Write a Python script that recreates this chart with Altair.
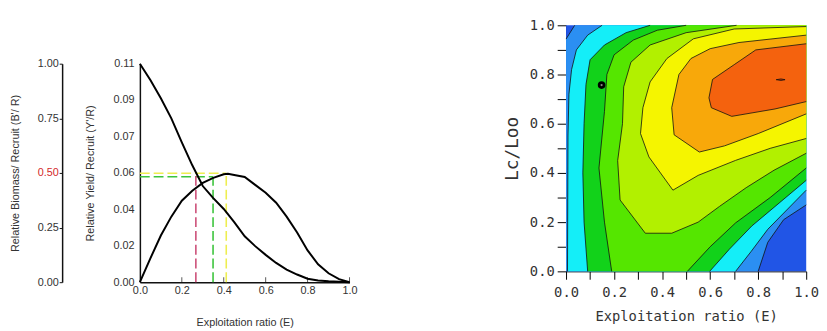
import altair as alt
import pandas as pd

# ---------------- Left panel: relative yield / biomass per recruit ----------------
E_br = [0, 0.05, 0.1, 0.15, 0.2, 0.25, 0.3, 0.35, 0.4, 0.45, 0.5, 0.55, 0.6, 0.65, 0.7, 0.75, 0.8, 0.85, 0.9, 0.95, 1.0]
BR = [1.0, 0.925, 0.842, 0.75, 0.64, 0.535, 0.44, 0.385, 0.335, 0.275, 0.21, 0.165, 0.125, 0.088, 0.058, 0.035, 0.016, 0.008, 0.004, 0.002, 0.0]

E_yr = [0, 0.05, 0.1, 0.15, 0.2, 0.25, 0.3, 0.35, 0.4, 0.42, 0.45, 0.5, 0.55, 0.6, 0.65, 0.7, 0.75, 0.8, 0.85, 0.9, 0.95, 1.0]
YR = [0, 0.012, 0.0235, 0.033, 0.041, 0.046, 0.050, 0.0525, 0.0543, 0.0546, 0.054, 0.053, 0.049, 0.045, 0.040, 0.033, 0.025, 0.016, 0.009, 0.0045, 0.0015, 0.0]

# reference points: E50, E10, Emax
ref_E = [0.267, 0.349, 0.412]
ref_Y = [0.0546, 0.0531, 0.0548]
ref_horizontal = [False, True, True]
ref_colors = ["#cc4f78", "#3cc43c", "#eeee50"]

yield_tick_values = [0, 0.0183, 0.0367, 0.055, 0.0733, 0.0917, 0.11]
yield_tick_labels = ["0.00", "0.02", "0.04", "0.06", "0.07", "0.09", "0.11"]
biomass_tick_values = [0, 0.25, 0.5, 0.75, 1.0]
biomass_highlight = 0.5
x_tick_values = [0, 0.2, 0.4, 0.6, 0.8, 1.0]

# ---------------- Right panel: yield isopleths (Lc/Loo vs E) ----------------
contour_colors = ["#2155e6", "#2b8ff2", "#14eef8", "#12d21a", "#55e600",
                  "#b2f000", "#f5f500", "#f8a80a", "#f4620e", "#e03000"]
contour_polys = [
    [(0, 0), (0, 1), (1, 1), (1, 0)],
    [(0, 0), (0, 0.944), (0.036, 1.0), (1, 1), (1, 0.27), (0.906, 0.21), (0.84, 0.118), (0.8, 0)],
    [(0.006, 0), (0.008, 0.55), (0.012, 0.72), (0.023, 0.82), (0.043, 0.9), (0.09, 0.96), (0.15, 1.0),
     (1, 1), (1, 0.33), (0.84, 0.171), (0.77, 0.08), (0.706, 0)],
    [(0.09, 0), (0.075, 0.2), (0.07, 0.4), (0.075, 0.6), (0.083, 0.76), (0.1, 0.86), (0.16, 0.92),
     (0.25, 0.97), (0.35, 1.0), (1, 1), (1, 0.37), (0.773, 0.184), (0.68, 0.09), (0.598, 0)],
    [(0.19, 0), (0.16, 0.2), (0.137, 0.42), (0.15, 0.55), (0.16, 0.65), (0.17, 0.8), (0.2, 0.88),
     (0.28, 0.94), (0.38, 0.98), (0.5, 1.0), (1, 1), (1, 0.42), (0.85, 0.3), (0.706, 0.197),
     (0.6, 0.1), (0.505, 0)],
    [(0.225, 0.29), (0.215, 0.45), (0.235, 0.6), (0.24, 0.75), (0.27, 0.85), (0.35, 0.92), (0.5, 0.97),
     (0.71, 1.0), (1, 1), (1, 0.48), (0.866, 0.411), (0.75, 0.34), (0.639, 0.264), (0.55, 0.2),
     (0.44, 0.155), (0.33, 0.155)],
    [(0.345, 0.465), (0.31, 0.56), (0.32, 0.665), (0.35, 0.77), (0.42, 0.865), (0.53, 0.945),
     (0.7, 0.985), (1.0, 0.995), (1.0, 0.54), (0.85, 0.5), (0.706, 0.451), (0.55, 0.39), (0.445, 0.33)],
    [(0.44, 0.665), (0.47, 0.80), (0.52, 0.865), (0.60, 0.905), (0.72, 0.93), (1.0, 0.96), (1.0, 0.64),
     (0.80, 0.56), (0.66, 0.51), (0.555, 0.485), (0.45, 0.555)],
    [(0.61, 0.78), (0.70, 0.84), (0.79, 0.90), (1.0, 0.925), (1.0, 0.69), (0.87, 0.66), (0.69, 0.63),
     (0.605, 0.665), (0.595, 0.705)],
    [(0.875, 0.779), (0.895, 0.782), (0.912, 0.779), (0.895, 0.776)],
]
optimum_E = [0.148]
optimum_Lc = [0.757]

# ---------------- build tables ----------------
df_b = pd.DataFrame({"E": E_br, "B": BR})
df_y = pd.DataFrame({"E": E_yr, "Y": YR})
rows = []
for e, yv, h, c in zip(ref_E, ref_Y, ref_horizontal, ref_colors):
    if h:
        rows.append(dict(x1=0, x2=e, y1=yv, y2=yv, color=c))
for e, yv, h, c in zip(ref_E, ref_Y, ref_horizontal, ref_colors):
    rows.append(dict(x1=e, x2=e, y1=0, y2=yv, color=c))
df_d = pd.DataFrame(rows)
df_t = pd.DataFrame({"E": x_tick_values[1:], "zero": [0] * (len(x_tick_values) - 1)})

FONT_L = "Liberation Sans"
TXT = "#333333"
W1, H1 = 213, 222
xs = alt.Scale(domain=[0, 1], nice=False, zero=False)
ys_y = alt.Scale(domain=[0, 0.11], nice=False)
ys_b = alt.Scale(domain=[0, 1], nice=False)

yield_expr = " : ".join(
    f"abs(datum.value - {v}) < 0.0005 ? '{l}'" for v, l in zip(yield_tick_values, yield_tick_labels)
) + " : ''"

common_l = dict(labelFont=FONT_L, titleFont=FONT_L, labelFontSize=11, titleFontSize=11,
                labelColor=TXT, titleColor=TXT, titleFontWeight="normal", grid=False,
                domainColor="#111111", domainWidth=1.5)

x_axis_l = alt.Axis(values=x_tick_values, format=".1f", title="Exploitation ratio (E)",
                    tickSize=0, labelPadding=2, titlePadding=22, labelFlush=False, **common_l)
y_axis_yield = alt.Axis(values=yield_tick_values, labelExpr=yield_expr, orient="left",
                        title="Relative Yield/ Recruit (Y'/R)", tickSize=0, labelPadding=6,
                        titlePadding=18, labelFlush=False, **common_l)
y_axis_bio = alt.Axis(values=biomass_tick_values, format=".2f", orient="left", offset=79,
                      title="Relative Biomass/ Recruit (B'/ R)", tickSize=3, tickColor="#111111",
                      labelPadding=1, titlePadding=17, labelFlush=False,
                      **{**common_l, "labelColor": {"expr": f"datum.value == {biomass_highlight} ? '#d42a2a' : '{TXT}'"}})

dash = alt.Chart(df_d).mark_rule(strokeDash=[10, 4], strokeWidth=1.6).encode(
    x=alt.X("x1:Q", scale=xs, axis=x_axis_l), x2="x2:Q",
    y=alt.Y("y1:Q", scale=ys_y, axis=y_axis_yield), y2="y2:Q",
    color=alt.Color("color:N", scale=None))
yield_line = alt.Chart(df_y).mark_line(color="black", strokeWidth=2).encode(
    x=alt.X("E:Q", scale=xs, axis=x_axis_l),
    y=alt.Y("Y:Q", scale=ys_y, axis=y_axis_yield))
ticks = alt.Chart(df_t).mark_tick(orient="vertical", size=5, thickness=1, color="#111111", yOffset=-2.5).encode(
    x=alt.X("E:Q", scale=xs, axis=x_axis_l),
    y=alt.Y("zero:Q", scale=ys_y, axis=y_axis_yield))
inner = alt.layer(dash, yield_line, ticks)
bio = alt.Chart(df_b).mark_line(color="black", strokeWidth=2).encode(
    x=alt.X("E:Q", scale=xs, axis=x_axis_l),
    y=alt.Y("B:Q", scale=ys_b, axis=y_axis_bio))
left_plot = alt.layer(inner, bio).resolve_scale(y="independent").properties(width=W1, height=H1)

# empty spacer above the left panel (keeps it lower than the right panel)
spacer = alt.Chart(pd.DataFrame({"v": [0]})).mark_point(opacity=0).encode(
    x=alt.X("v:Q", axis=None), y=alt.Y("v:Q", axis=None)).properties(width=W1, height=1)
left = alt.vconcat(spacer, left_plot, spacing=29)

# ---------------- right panel ----------------
FONT_R = "DejaVu Sans Mono"
W2, H2 = 244, 250
xs2 = alt.Scale(domain=[0, 1], nice=False, zero=False)
ys2 = alt.Scale(domain=[0, 1], nice=False, zero=False)
tenths = [k / 10 for k in range(11)]
even_expr = "round(datum.value * 10) % 2 == 0 ? format(datum.value, '.1f') : ''"
common_r = dict(labelFont=FONT_R, titleFont=FONT_R, labelFontSize=14, titleFontSize=14,
                labelColor=TXT, titleColor=TXT, titleFontWeight="normal", grid=False,
                domainColor="#000000", tickColor="#000000", labelFlush=False, labelOverlap=False)
x_axis_r = alt.Axis(values=tenths, labelExpr=even_expr, title="Exploitation ratio (E)",
                    tickSize=8, labelPadding=7, titlePadding=10, **common_r)
y_axis_r = alt.Axis(values=tenths, labelExpr=even_expr, title="Lc/Loo",
                    tickSize=9, labelPadding=3, titlePadding=8,
                    **{**common_r, "titleFontSize": 18})


def on_edge(p, q):
    return (p[0] == q[0] and p[0] in (0, 1)) or (p[1] == q[1] and p[1] in (0, 1))


fill_layers = []
line_rows = []
seg = 0
for lvl, (poly, col) in enumerate(zip(contour_polys, contour_colors)):
    dfp = pd.DataFrame({"E": [p[0] for p in poly], "Lc": [p[1] for p in poly], "i": list(range(len(poly)))})
    fill_layers.append(
        alt.Chart(dfp).mark_line(filled=True, fill=col, interpolate="linear-closed").encode(
            x=alt.X("E:Q", scale=xs2, axis=x_axis_r),
            y=alt.Y("Lc:Q", scale=ys2, axis=y_axis_r),
            order="i:Q"))
    n = len(poly)
    skips = [i for i in range(n) if on_edge(poly[i], poly[(i + 1) % n])]
    if len(skips) == n:
        continue
    if not skips:
        pts = poly + [poly[0]]
        for k, p in enumerate(pts):
            line_rows.append(dict(E=p[0], Lc=p[1], seg=seg, i=k))
        seg += 1
        continue
    s = skips[0]
    cur = []
    for j in range(1, n + 1):
        i = (s + j) % n
        a, b = poly[i], poly[(i + 1) % n]
        if on_edge(a, b):
            if cur:
                for k, p in enumerate(cur):
                    line_rows.append(dict(E=p[0], Lc=p[1], seg=seg, i=k))
                seg += 1
                cur = []
        else:
            if not cur:
                cur = [a]
            cur.append(b)
    if cur:
        for k, p in enumerate(cur):
            line_rows.append(dict(E=p[0], Lc=p[1], seg=seg, i=k))
        seg += 1

df_lines = pd.DataFrame(line_rows)
contour_lines = alt.Chart(df_lines).mark_line(color="#111111", strokeWidth=0.8).encode(
    x=alt.X("E:Q", scale=xs2, axis=x_axis_r),
    y=alt.Y("Lc:Q", scale=ys2, axis=y_axis_r),
    detail="seg:N", order="i:Q")

df_opt = pd.DataFrame({"E": optimum_E, "Lc": optimum_Lc})
dot = alt.Chart(df_opt).mark_point(filled=True, color="black", size=60, opacity=1).encode(
    x=alt.X("E:Q", scale=xs2, axis=x_axis_r), y=alt.Y("Lc:Q", scale=ys2, axis=y_axis_r))
dot_c = alt.Chart(df_opt).mark_point(filled=True, color="#888888", size=5, opacity=1).encode(
    x=alt.X("E:Q", scale=xs2, axis=x_axis_r), y=alt.Y("Lc:Q", scale=ys2, axis=y_axis_r))

right = alt.layer(*fill_layers, contour_lines, dot, dot_c).properties(width=W2, height=H2)

chart = alt.hconcat(left, right, spacing=148).properties(
    padding={"left": 1, "top": 8, "right": 0, "bottom": 0}
).configure_view(strokeWidth=0)

chart.save("out.html", embed_options={"renderer": "svg", "actions": False})
